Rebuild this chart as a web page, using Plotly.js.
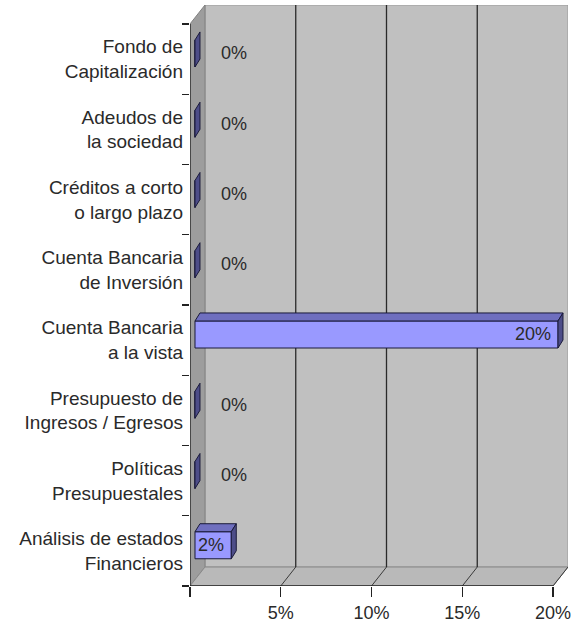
<!DOCTYPE html>
<html>
<head>
<meta charset="utf-8">
<script src="https://cdn.plot.ly/plotly-3.0.1.min.js"></script>
<style>html,body{margin:0;padding:0;background:#fff;}#chart{width:578px;height:622px;}</style>
</head>
<body>
<div id="chart"></div>
<script>
// Data (listed top to bottom as in the chart)
const categories = [
  'Fondo de<br>Capitalización',
  'Adeudos de<br>la sociedad',
  'Créditos a corto<br>o largo plazo',
  'Cuenta Bancaria<br>de Inversión',
  'Cuenta Bancaria<br>a la vista',
  'Presupuesto de<br>Ingresos / Egresos',
  'Políticas<br>Presupuestales',
  'Análisis de estados<br>Financieros'
];
const values = [0, 0, 0, 0, 20, 0, 0, 2];
const xTickVals = [0, 5, 10, 15, 20];
const xTickText = ['', '5%', '10%', '15%', '20%'];

// 3D geometry (axis units)
const DX = 0.826, DY = 0.27;          // wall depth
const BX = 0.275, BY = 0.08;          // bar front-face offset
const DDX = 0.275, DDY = 0.114;       // bar depth
const BW = 0.385;                     // bar thickness
const XMAX = 20;
const n = categories.length;
const pos = categories.map((c, k) => n - 1 - k);

const font = 'Liberation Sans, Arial, sans-serif';
const textColor = '#2a2a2a';

const shapes = [];
const yb = -0.5, yt = n - 0.5;
// back wall
shapes.push({type:'rect', layer:'below', xref:'x', yref:'y', x0:DX, x1:XMAX+DX, y0:yb+DY, y1:yt+DY,
  fillcolor:'#c0c0c0', line:{color:'#9a9a9a', width:1}});
// left wall
shapes.push({type:'path', layer:'below', xref:'x', yref:'y',
  path:`M0,${yb} L0,${yt} L${DX},${yt+DY} L${DX},${yb+DY} Z`,
  fillcolor:'#9d9d9d', line:{color:'#808080', width:1}});
// floor
shapes.push({type:'path', layer:'below', xref:'x', yref:'y',
  path:`M0,${yb} L${XMAX},${yb} L${XMAX+DX},${yb+DY} L${DX},${yb+DY} Z`,
  fillcolor:'#b9b9b9', line:{color:'#8a8a8a', width:1}});
// gridlines on back wall and floor
xTickVals.forEach(v => {
  if (v > 0 && v < XMAX) {
    shapes.push({type:'line', layer:'below', xref:'x', yref:'y', x0:v+DX, x1:v+DX, y0:yb+DY, y1:yt+DY,
      line:{color:'#2a2a2a', width:1.3}});
  }
  if (v > 0) {
    shapes.push({type:'line', layer:'below', xref:'x', yref:'y', x0:v, x1:v+DX, y0:yb, y1:yb+DY,
      line:{color:'#3a3a3a', width:1}});
  }
});
// front axis lines
shapes.push({type:'line', layer:'above', xref:'x', yref:'y', x0:0, x1:0, y0:yb, y1:yt, line:{color:'#222', width:1.3}});
shapes.push({type:'line', layer:'above', xref:'x', yref:'y', x0:0, x1:XMAX, y0:yb, y1:yb, line:{color:'#222', width:1.3}});

// bar 3D faces
const annotations = [];
values.forEach((v, k) => {
  const y = pos[k];
  const y0 = y + BY - BW/2, y1 = y + BY + BW/2;
  const x0 = BX, x1 = BX + v;
  // top face
  if (v > 0) {
    shapes.push({type:'path', layer:'above', xref:'x', yref:'y',
      path:`M${x0},${y1} L${x1},${y1} L${x1+DDX},${y1+DDY} L${x0+DDX},${y1+DDY} Z`,
      fillcolor:'#6f6fbf', line:{color:'#1a1a3a', width:1}});
  }
  // side face
  shapes.push({type:'path', layer:'above', xref:'x', yref:'y',
    path:`M${x1},${y0} L${x1},${y1} L${x1+DDX},${y1+DDY} L${x1+DDX},${y0+DDY} Z`,
    fillcolor:'#4d4d88', line:{color:'#1a1a3a', width:1}});
  // label
  if (v > 0) {
    annotations.push({xref:'x', yref:'y', x:x1, y:y+BY, text:v+'%', showarrow:false,
      xanchor:'right', xshift:-5, font:{family:font, size:18, color:textColor}});
  } else {
    annotations.push({xref:'x', yref:'y', x:x1, y:y+BY, text:v+'%', showarrow:false,
      xanchor:'left', xshift:24, font:{family:font, size:18, color:textColor}});
  }
});

const trace = {
  type:'bar', orientation:'h', y:pos, x:values, base:BX, width:BW, offset:BY-BW/2,
  marker:{color:'#9999ff', line:{color:'#1a1a3a', width:1}},
  hoverinfo:'skip', showlegend:false
};

const layout = {
  width:578, height:622,
  margin:{l:190, r:10, t:5, b:36, pad:0},
  paper_bgcolor:'#ffffff', plot_bgcolor:'rgba(0,0,0,0)',
  showlegend:false,
  xaxis:{range:[0, XMAX+DX], tickmode:'array', tickvals:xTickVals, ticktext:xTickText,
    ticks:'outside', ticklen:10, tickwidth:1.3, tickcolor:'#222', showgrid:false, zeroline:false, showline:false,
    tickfont:{family:font, size:18, color:textColor}, fixedrange:true},
  yaxis:{range:[yb, yt+DY], tickmode:'array', tickvals:pos, ticktext:categories, ticks:'',
    ticklabelstandoff:6, showgrid:false, zeroline:false, showline:false,
    minor:{tickmode:'array', tickvals:Array.from({length:n+1}, (_, i) => i - 0.5), ticks:'outside', ticklen:7, tickwidth:1.3, tickcolor:'#222', showgrid:false},
    tickfont:{family:font, size:19, color:textColor}, fixedrange:true},
  shapes:shapes,
  annotations:annotations
};

Plotly.newPlot('chart', [trace], layout, {displayModeBar:false, staticPlot:true});
</script>
</body>
</html>
